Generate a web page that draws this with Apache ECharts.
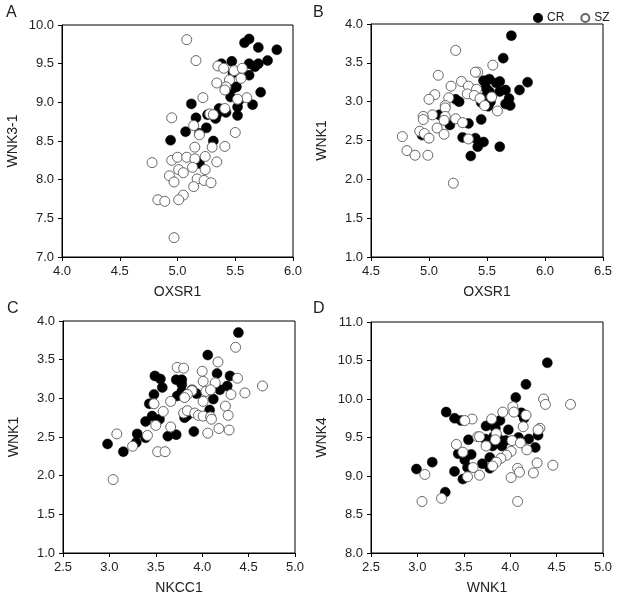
<!DOCTYPE html>
<html><head><meta charset="utf-8">
<script src="https://cdn.jsdelivr.net/npm/echarts@6/dist/echarts.min.js"></script>
<style>html,body{margin:0;padding:0;background:#fff}#c{width:620px;height:600px}</style>
</head><body><div id="c"></div>
<script>
// Panel A: OXSR1 (x) vs WNK3-1 (y)
const A_CR = [[5.62,9.82],[5.58,9.77],[5.70,9.71],[5.86,9.68],[5.78,9.54],[5.70,9.50],[5.62,9.50],[5.47,9.53],[5.38,9.50],[5.67,9.46],[5.62,9.35],[5.48,9.38],[5.51,9.20],[5.48,9.18],[5.72,9.13],[5.46,9.07],[5.53,9.02],[5.52,8.94],[5.65,8.97],[5.52,8.83],[5.36,8.92],[5.42,8.87],[5.34,8.84],[5.33,8.79],[5.26,8.84],[5.12,8.98],[5.16,8.80],[5.25,8.67],[5.07,8.62],[5.19,8.60],[5.31,8.50],[4.94,8.51],[5.19,8.21]];
const A_SZ = [[5.08,9.81],[5.16,9.54],[5.35,9.47],[5.40,9.44],[5.49,9.41],[5.56,9.44],[5.45,9.29],[5.55,9.31],[5.34,9.25],[5.42,9.20],[5.41,9.16],[5.60,9.06],[5.52,9.04],[5.22,9.06],[5.41,8.92],[5.28,8.85],[5.31,8.84],[4.95,8.80],[5.14,8.70],[5.19,8.58],[5.50,8.61],[5.15,8.42],[5.30,8.42],[5.41,8.43],[4.78,8.22],[4.95,8.25],[5.00,8.29],[5.08,8.29],[5.15,8.27],[5.24,8.30],[5.34,8.23],[5.01,8.13],[5.05,8.09],[5.13,8.16],[5.24,8.13],[4.93,8.05],[4.97,7.97],[5.17,8.01],[5.23,7.99],[5.29,7.96],[5.14,7.91],[5.05,7.80],[5.01,7.74],[4.83,7.74],[4.89,7.72],[4.97,7.25]];
// Panel B: OXSR1 (x) vs WNK1 (y)
const B_CR = [[5.71,3.85],[5.64,3.56],[5.85,3.25],[5.78,3.15],[5.69,3.04],[5.70,2.95],[5.66,3.15],[5.61,3.26],[5.58,3.24],[5.52,3.29],[5.47,3.27],[5.49,3.18],[5.52,3.13],[5.61,3.13],[5.49,3.07],[5.45,2.99],[5.51,2.94],[5.66,2.97],[5.53,3.00],[5.26,3.00],[5.23,3.03],[5.45,2.77],[5.34,2.72],[5.18,2.70],[5.09,2.83],[4.94,2.57],[5.29,2.54],[5.40,2.53],[5.47,2.48],[5.42,2.42],[5.61,2.42],[5.36,2.30]];
const B_SZ = [[5.23,3.66],[5.55,3.47],[5.42,3.38],[5.40,3.38],[5.08,3.34],[5.28,3.26],[5.19,3.20],[5.34,3.20],[5.41,3.16],[5.05,3.09],[5.33,3.10],[5.39,3.08],[5.44,3.04],[5.54,3.06],[5.17,3.05],[5.00,3.03],[5.14,2.95],[5.48,2.95],[5.59,2.88],[5.14,2.92],[5.03,2.83],[5.14,2.81],[5.23,2.78],[5.13,2.76],[4.95,2.81],[4.95,2.77],[5.29,2.73],[5.07,2.66],[5.13,2.58],[4.92,2.62],[4.96,2.59],[5.00,2.53],[4.77,2.55],[4.81,2.37],[4.88,2.31],[4.99,2.31],[5.34,2.52],[5.21,1.95]];
// Panel C: NKCC1 (x) vs WNK1 (y)
const C_CR = [[4.39,3.85],[4.06,3.56],[4.16,3.32],[4.30,3.29],[4.27,3.16],[4.19,3.11],[4.12,2.99],[4.08,2.85],[3.94,3.06],[3.89,3.11],[3.78,3.09],[3.73,3.03],[3.78,3.18],[3.78,3.24],[3.72,3.24],[3.49,3.29],[3.55,3.25],[3.57,3.14],[3.48,3.05],[3.43,2.93],[3.46,2.77],[3.39,2.70],[3.54,2.73],[3.81,2.75],[3.84,2.78],[3.63,2.51],[3.72,2.53],[3.91,2.57],[3.30,2.54],[3.29,2.43],[3.39,2.49],[2.98,2.41],[3.15,2.31]];
const C_SZ = [[4.36,3.66],[4.17,3.47],[3.73,3.40],[3.80,3.39],[4.00,3.35],[4.01,3.22],[4.14,3.20],[4.38,3.26],[4.65,3.16],[4.46,3.07],[4.31,3.05],[4.04,3.09],[4.09,3.11],[3.89,3.10],[3.84,3.05],[3.81,3.01],[3.66,2.96],[4.01,2.96],[3.48,2.93],[4.25,2.90],[3.58,2.83],[3.80,2.81],[3.84,2.84],[3.92,2.81],[3.96,2.78],[4.01,2.77],[4.09,2.76],[4.10,2.73],[4.28,2.78],[3.50,2.65],[3.66,2.63],[4.18,2.61],[4.29,2.59],[4.06,2.55],[3.08,2.54],[3.41,2.52],[3.25,2.38],[3.52,2.31],[3.60,2.31],[3.04,1.95]];
// Panel D: WNK1 (x) vs WNK4 (y)
const D_CR = [[4.40,10.47],[4.17,10.19],[4.06,10.02],[4.12,9.82],[4.15,9.75],[3.31,9.83],[3.40,9.75],[3.47,9.72],[3.89,9.72],[3.83,9.68],[3.74,9.65],[3.84,9.62],[3.98,9.60],[3.82,9.51],[3.87,9.49],[3.73,9.48],[4.20,9.48],[4.30,9.53],[4.09,9.50],[3.55,9.47],[3.95,9.46],[3.91,9.39],[3.81,9.39],[4.27,9.37],[3.58,9.28],[3.44,9.29],[3.78,9.24],[3.51,9.21],[3.54,9.11],[3.70,9.16],[3.78,9.10],[3.16,9.18],[2.99,9.09],[3.40,9.06],[3.49,8.96],[3.30,8.79]];
const D_SZ = [[4.36,10.00],[4.38,9.93],[4.65,9.93],[4.03,9.90],[3.92,9.83],[4.04,9.83],[4.17,9.79],[3.59,9.74],[3.51,9.72],[3.80,9.74],[4.14,9.64],[4.32,9.62],[4.30,9.60],[3.85,9.55],[3.84,9.47],[3.65,9.51],[3.67,9.51],[4.02,9.46],[4.11,9.43],[3.42,9.41],[3.74,9.39],[3.49,9.31],[4.18,9.34],[4.01,9.32],[3.96,9.27],[3.90,9.23],[3.85,9.18],[3.60,9.11],[4.29,9.17],[4.46,9.14],[4.08,9.10],[4.10,9.05],[4.25,9.04],[4.01,8.98],[3.67,9.01],[3.54,8.99],[3.81,9.13],[3.08,9.02],[3.26,8.71],[3.05,8.67],[4.08,8.67]];

const panelLetters = ['A','B','C','D'];
const xNames = ['OXSR1','OXSR1','NKCC1','WNK1'];
const yNames = ['WNK3-1','WNK1','WNK1','WNK4'];
const xRanges = [[4.0,6.0],[4.5,6.5],[2.5,5.0],[2.5,5.0]];
const yRanges = [[7.0,10.0],[1.0,4.0],[1.0,4.0],[8.0,11.0]];
const crData = [A_CR,B_CR,C_CR,D_CR];
const szData = [A_SZ,B_SZ,C_SZ,D_SZ];

const FONT = 'Liberation Sans, Arial, sans-serif';
const grids = [
  {left:62, top:25, width:231, height:232},
  {left:371, top:24, width:232, height:233},
  {left:63, top:321, width:232, height:232},
  {left:371, top:322, width:232, height:231}
];
const axisCommon = {
  axisLine:{onZero:false, lineStyle:{color:'#000', width:1}},
  axisTick:{inside:false, length:4, lineStyle:{color:'#000'}},
  splitLine:{show:false},
  axisLabel:{color:'#222', fontSize:13, fontFamily:FONT, formatter:v=>v.toFixed(1)},
  nameTextStyle:{color:'#222', fontSize:14, fontFamily:FONT}
};
const xAxis = [], yAxis = [], series = [];
for (let i=0;i<4;i++){
  xAxis.push(Object.assign({}, axisCommon, {type:'value', gridIndex:i, min:xRanges[i][0], max:xRanges[i][1], interval:0.5,
    name:xNames[i], nameLocation:'middle', nameGap:28}));
  yAxis.push(Object.assign({}, axisCommon, {type:'value', gridIndex:i, min:yRanges[i][0], max:yRanges[i][1], interval:0.5,
    name:yNames[i], nameLocation:'middle', nameGap:42}));
  series.push({name:'CR', type:'scatter', xAxisIndex:i, yAxisIndex:i, data:crData[i], symbolSize:10,
    itemStyle:{color:'#000', borderColor:'#000', borderWidth:0.5, opacity:1}});
  series.push({name:'SZ', type:'scatter', xAxisIndex:i, yAxisIndex:i, data:szData[i], symbolSize:10,
    itemStyle:{color:'#fff', borderColor:'#666', borderWidth:1, opacity:1}});
}
grids.forEach(g=>{ g.show=true; g.borderColor='#000'; g.borderWidth=1; g.backgroundColor='transparent'; });

const chart = echarts.init(document.getElementById('c'), null, {renderer:'canvas'});
chart.setOption({
  animation:false,
  backgroundColor:'#fff',
  grid:grids,
  xAxis, yAxis, series,
  legend:{data:['CR','SZ'], top:7, left:528, itemWidth:8, itemHeight:8, itemGap:16,
    textStyle:{color:'#222', fontSize:12, fontFamily:FONT}, icon:'circle'},
  graphic: panelLetters.map((t,i)=>({type:'text', left:[6,313,7,313][i], top:[5,5,301,301][i],
    style:{text:t, font:'16px '+FONT, fill:'#222'}}))
});
</script></body></html>
